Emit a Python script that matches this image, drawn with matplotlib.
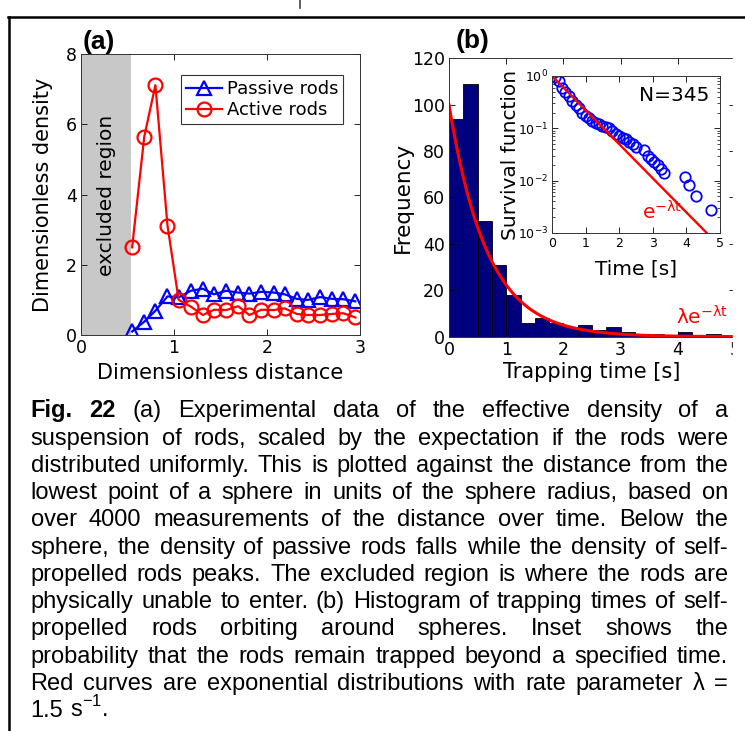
import numpy as np
import matplotlib.pyplot as plt
from matplotlib.lines import Line2D
from matplotlib.patches import Rectangle

plt.rcParams['font.family'] = 'DejaVu Sans'

# panel (a): density vs distance
dist = [0.55, 0.68, 0.80, 0.93, 1.05, 1.18, 1.31, 1.43, 1.56, 1.69,
        1.81, 1.94, 2.07, 2.19, 2.32, 2.44, 2.57, 2.70, 2.82, 2.95]
passive = [0.10, 0.38, 0.69, 1.10, 1.07, 1.26, 1.32, 1.16, 1.26, 1.21,
           1.18, 1.23, 1.21, 1.16, 1.03, 1.00, 1.08, 1.03, 1.02, 0.96]
active = [2.50, 5.65, 7.12, 3.12, 1.00, 0.81, 0.57, 0.72, 0.71, 0.82,
          0.57, 0.72, 0.71, 0.76, 0.60, 0.57, 0.57, 0.60, 0.62, 0.50]
excluded_edge = 0.54

# panel (b): histogram of trapping times (bin width 0.25 s)
bin_edges = [0, 0.25, 0.5, 0.75, 1.0, 1.25, 1.5, 1.75, 2.0, 2.25, 2.5,
             2.75, 3.0, 3.25, 3.5, 3.75, 4.0, 4.25, 4.5, 4.75, 5.0]
counts = [94, 109, 50, 31, 18, 6, 8, 6, 4, 5, 3, 4, 2, 1, 1, 0, 2, 0, 1, 0]
lam = 1.5      # rate parameter from the caption
amp = 100      # fit amplitude at t = 0

# inset: survival function
surv_t = [0.10, 0.20, 0.30, 0.40, 0.50, 0.60, 0.70, 0.80, 0.90, 1.00,
          1.10, 1.20, 1.30, 1.40, 1.50, 1.60, 1.70, 1.80, 1.90, 2.00,
          2.10, 2.20, 2.30, 2.40, 2.50, 2.75, 2.85, 2.95, 3.05, 3.15,
          3.25, 3.32, 3.95, 4.08, 4.28, 4.72]
surv_s = [0.97, 0.79, 0.60, 0.50, 0.42, 0.33, 0.275, 0.24, 0.20, 0.174,
          0.158, 0.138, 0.129, 0.120, 0.112, 0.105, 0.100, 0.089, 0.079, 0.072,
          0.066, 0.062, 0.055, 0.050, 0.044, 0.038, 0.030, 0.026, 0.023, 0.020,
          0.0166, 0.0141, 0.0117, 0.0083, 0.0052, 0.0028]

caption = [
    "Fig. 22 (a) Experimental data of the effective density of a",
    "suspension of rods, scaled by the expectation if the rods were",
    "distributed uniformly. This is plotted against the distance from the",
    "lowest point of a sphere in units of the sphere radius, based on",
    "over 4000 measurements of the distance over time. Below the",
    "sphere, the density of passive rods falls while the density of self-",
    "propelled rods peaks. The excluded region is where the rods are",
    "physically unable to enter. (b) Histogram of trapping times of self-",
    "propelled rods orbiting around spheres. Inset shows the",
    "probability that the rods remain trapped beyond a specified time.",
    "Red curves are exponential distributions with rate parameter \u03bb =",
    "1.5 s$^{\\mathregular{-1}}$.",
]

W, H = 745, 731
fig = plt.figure(figsize=(W / 100, H / 100), dpi=100)


def box(l, t, r, b):
    return [l / W, 1 - b / H, (r - l) / W, (b - t) / H]


def style(ax, size=12):
    ax.tick_params(direction='in', top=True, right=True, labelsize=size,
                   length=4, width=0.6, pad=3)
    for s in ax.spines.values():
        s.set_linewidth(0.7)
        s.set_color('#333333')


# ---- panel (a)
ax = fig.add_axes(box(81, 54.3, 360, 335))
ax.axvspan(0, excluded_edge, color='#c8c8c8', lw=0, zorder=0)
ax.plot(dist, passive, '-^', color='blue', lw=1.6, ms=10, mfc='none',
        mew=1.6, label='Passive rods')
ax.plot(dist, active, '-o', color='red', lw=1.6, ms=10, mfc='none',
        mew=1.6, label='Active rods')
ax.set_xlim(0, 3)
ax.set_ylim(0, 8)
ax.set_xticks([0, 1, 2, 3])
ax.set_yticks([0, 2, 4, 6, 8])
style(ax, 12.5)
ax.text(0.27, 3.97, 'excluded region', rotation=90, ha='center',
        va='center', fontsize=14.5)
ax.set_xlabel('Dimensionless distance', fontsize=15)
ax.set_ylabel('Dimensionless density', fontsize=15)
ax.xaxis.set_label_coords(0.5, -0.10)
ax.yaxis.set_label_coords(-0.10, 0.5)
leg = ax.legend(loc='upper right', bbox_to_anchor=(0.94, 0.925),
                borderaxespad=0, fontsize=13, handlelength=2.0,
                handletextpad=0.3, borderpad=0.25, labelspacing=0.2,
                fancybox=False, framealpha=1)
leg.get_frame().set_edgecolor('#333333')
leg.get_frame().set_linewidth(0.8)

# ---- panel (b)
axb = fig.add_axes(box(449, 58.3, 735, 336.7))
axb.bar(bin_edges[:-1], counts, width=0.25, align='edge', color='#00007f',
        edgecolor='black', lw=0.6)
t = np.linspace(0, 5, 400)
axb.plot(t, amp * np.exp(-lam * t), color='red', lw=2.2)
axb.set_xlim(0, 5)
axb.set_ylim(0, 120)
axb.set_xticks([0, 1, 2, 3, 4, 5])
axb.set_yticks(range(0, 121, 20))
style(axb, 12.5)
axb.spines['right'].set_visible(False)
axb.text(4.42, 8.5, '\u03bbe$^{\\mathregular{-\u03bbt}}$', color='red',
         fontsize=14.5, ha='center', va='center')
axb.set_xlabel('Trapping time [s]', fontsize=15)
axb.set_ylabel('Frequency', fontsize=15.5)
axb.xaxis.set_label_coords(0.5, -0.09)
axb.yaxis.set_label_coords(-0.125, 0.5)

# ---- inset
axi = fig.add_axes(box(552, 76, 720, 233))
axi.plot(surv_t, surv_s, 'o', color='blue', ms=7.5, mfc='none', mew=1.3)
ti = np.linspace(0, 5, 200)
axi.plot(ti, np.exp(-lam * ti), color='red', lw=1.7)
axi.set_yscale('log')
axi.set_xlim(0, 5)
axi.set_ylim(1e-3, 1)
axi.set_xticks([0, 1, 2, 3, 4, 5])
style(axi, size=9)
axi.tick_params(which='minor', direction='in', length=2, width=0.5,
                right=True)
axi.set_xlabel('Time [s]', fontsize=14.5)
axi.set_ylabel('Survival function', fontsize=14.5)
axi.xaxis.set_label_coords(0.5, -0.17)
axi.yaxis.set_label_coords(-0.19, 0.5)
axi.text(0.727, 0.875, 'N=345', transform=axi.transAxes, fontsize=14.5,
         ha='center', va='center')
axi.text(0.656, 0.135, 'e$^{\\mathregular{-\u03bbt}}$', transform=axi.transAxes,
         color='red', fontsize=14.5, ha='center', va='center')

# panel letters
fig.text(83 / W, 1 - 41.5 / H, '(a)', family='Liberation Sans',
         weight='bold', fontsize=19, va='center')
fig.text(456 / W, 1 - 41 / H, '(b)', family='Liberation Sans',
         weight='bold', fontsize=19, va='center')

# crop on the right and the frame of the figure box
fig.add_artist(Rectangle((733 / W, 0), 12 / W, 1 - 19 / H,
                         transform=fig.transFigure, color='white', zorder=5))
fig.add_artist(Line2D([8.7 / W, 8.7 / W], [0, 1 - 17 / H],
                      transform=fig.transFigure, color='black', lw=1.8, zorder=6))
fig.add_artist(Line2D([8 / W, 1], [1 - 17 / H, 1 - 17 / H],
                      transform=fig.transFigure, color='black', lw=1.8, zorder=6))
fig.add_artist(Line2D([300 / W, 300 / W], [1, 1 - 8 / H],
                      transform=fig.transFigure, color='#444444', lw=1.2))

# caption, justified between two margins
r = fig.canvas.get_renderer()
x0, x1 = 30.5, 728.0
cap_fs = 17
for i, line in enumerate(caption):
    words = line.split(' ')
    yb = 1 - (417.3 + 27.25 * i) / H
    texts = []
    for j, w in enumerate(words):
        bold = (i == 0 and j < 2)
        texts.append(fig.text(0, yb, w, family='Liberation Sans',
                              weight='bold' if bold else 'normal',
                              fontsize=cap_fs, va='baseline', ha='left'))
    widths = [tx.get_window_extent(r).width for tx in texts]
    if i < len(caption) - 1:
        gap = (x1 - x0 - sum(widths)) / (len(words) - 1)
    else:
        gap = 0.278 * cap_fs * 100 / 72
    x = x0
    for tx, w in zip(texts, widths):
        tx.set_x(x / W)
        x += w + gap

fig.savefig('out.png', dpi=100)
